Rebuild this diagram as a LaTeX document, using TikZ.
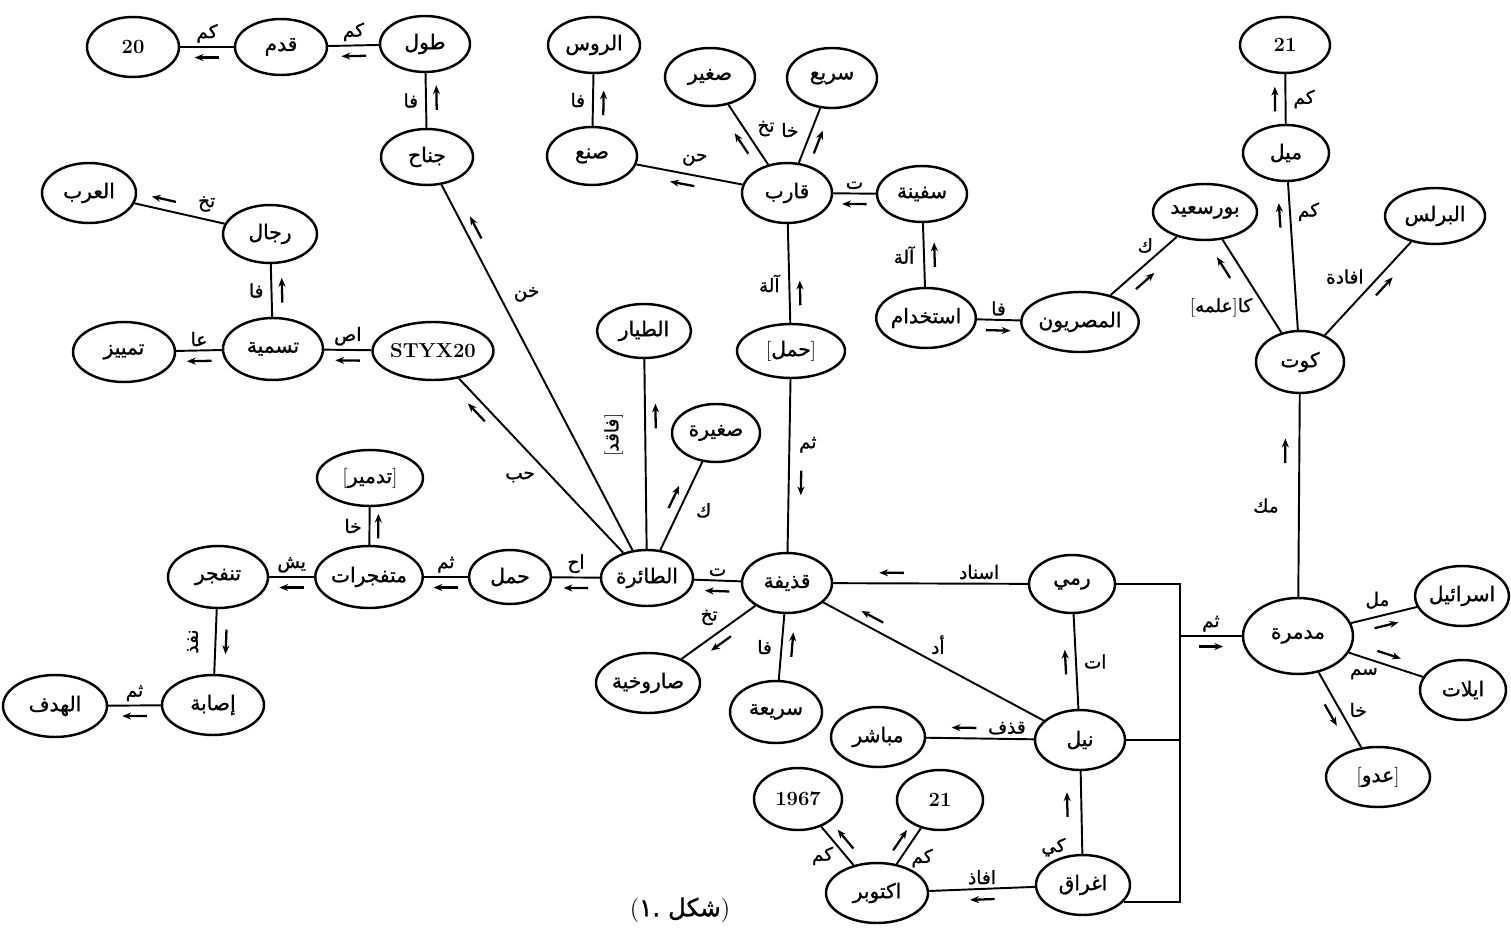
\documentclass[tikz,border=0pt]{standalone}
\usepackage{fontspec}
\newfontfamily\arabicfont[Script=Arabic,FakeBold=1.2]{DejaVu Sans}
\TeXXeTstate=1
\usetikzlibrary{shapes.geometric,decorations.markings,arrows.meta}
\newcommand{\art}[1]{{\arabicfont\beginR #1\endR}}
\tikzset{
  nd/.style={ellipse, draw, line width=1.4pt, inner sep=0pt, font=\fontsize{11.5}{13}\selectfont},
  sz/.style 2 args={minimum width={#1*0.02cm}, minimum height={#2*0.02cm}},
  ed/.style={line width=1.1pt},
  lb/.style={font=\fontsize{10.5}{12}\selectfont, inner sep=1pt},
  mkline/.style={line width=1.3pt, -{Stealth[length=5pt,width=4pt]}},
  mk/.style n args={3}{postaction={decorate, decoration={markings,
      mark=at position #1 with {\draw[mkline] ({-7pt*#3},#2) -- ({7pt*#3},#2);}}}},
}
\begin{document}
\begin{tikzpicture}[x=0.02cm, y=-0.02cm]
\fill[white] (0,0) rectangle (1511,929);
\useasboundingbox (0,0) rectangle (1511,929);

% nodes
\node[nd,sz={92}{60}] (n20) at (133,47) {\bfseries 20};
\node[nd,sz={92}{56}] (qadam) at (281,47) {\art{قدم}};
\node[nd,sz={90}{56}] (tul) at (425,44) {\art{طول}};
\node[nd,sz={92}{56}] (jah) at (427,157) {\art{جناح}};
\node[nd,sz={94}{60}] (arab) at (89,193) {\art{العرب}};
\node[nd,sz={94}{58}] (rijal) at (270,234) {\art{رجال}};
\node[nd,sz={102}{60}] (tamyiz) at (124,352) {\art{تمييز}};
\node[nd,sz={100}{62}] (tasmia) at (273,349) {\art{تسمية}};
\node[nd,sz={100}{58}] (styx) at (433,351) {\bfseries STYX20};
\node[nd,sz={106}{56}] (tadmir) at (370,478) {[\art{تدمير}]};
\node[nd,sz={102}{62}] (mutaf) at (369,577) {\art{متفجرات}};
\node[nd,sz={100}{62}] (tanfajir) at (218,577) {\art{تنفجر}};
\node[nd,sz={102}{60}] (isaba) at (213,705) {\art{إصابة}};
\node[nd,sz={104}{62}] (hadaf) at (55,706) {\art{الهدف}};
\node[nd,sz={82}{54}] (haml) at (510,577) {\art{حمل}};
\node[nd,sz={92}{56}] (taira) at (647,578) {\art{الطائرة}};
\node[nd,sz={94}{54}] (tayyar) at (644,331) {\art{الطيار}};
\node[nd,sz={88}{58}] (saghira) at (716,433) {\art{صغيرة}};
\node[nd,sz={90}{60}] (qadhifa) at (787,583) {\art{قذيفة}};
\node[nd,sz={108}{54}] (hamlb) at (791,351) {[\art{حمل}]};
\node[nd,sz={104}{60}] (sarukh) at (648,683) {\art{صاروخية}};
\node[nd,sz={92}{62}] (sariaa) at (776,712) {\art{سريعة}};
\node[nd,sz={92}{56}] (rus) at (594,45) {\art{الروس}};
\node[nd,sz={90}{58}] (sun) at (592,156) {\art{صنع}};
\node[nd,sz={90}{58}] (saghir) at (710,77) {\art{صغير}};
\node[nd,sz={90}{60}] (sari) at (832,78) {\art{سريع}};
\node[nd,sz={90}{60}] (qarib) at (787,193) {\art{قارب}};
\node[nd,sz={90}{56}] (safina) at (922,194) {\art{سفينة}};
\node[nd,sz={98}{60}] (istikhdam) at (926,318) {\art{استخدام}};
\node[nd,sz={104}{60}] (misriyun) at (1080,322) {\art{المصريون}};
\node[nd,sz={104}{56}] (portsaid) at (1205,212) {\art{بورسعيد}};
\node[nd,sz={90}{56}] (ntop) at (1285,45) {\bfseries 21};
\node[nd,sz={86}{56}] (mil) at (1286,153) {\art{ميل}};
\node[nd,sz={100}{56}] (burullus) at (1435,216) {\art{البرلس}};
\node[nd,sz={88}{62}] (kut) at (1300,362) {\art{كوت}};
\node[nd,sz={86}{58}] (rami) at (1072,584) {\art{رمي}};
\node[nd,sz={110}{76}] (mudammira) at (1298,636) {\art{مدمرة}};
\node[nd,sz={88}{60}] (israil) at (1462,596) {\art{اسرائيل}};
\node[nd,sz={86}{60}] (eilat) at (1463,690) {\art{ايلات}};
\node[nd,sz={104}{60}] (aduw) at (1378,777) {[\art{عدو}]};
\node[nd,sz={90}{60}] (nil) at (1080,740) {\art{نيل}};
\node[nd,sz={94}{60}] (ighraq) at (1083,885) {\art{اغراق}};
\node[nd,sz={94}{60}] (mubashir) at (878,737) {\art{مباشر}};
\node[nd,sz={102}{60}] (uktubar) at (877,893) {\art{اكتوبر}};
\node[nd,sz={88}{62}] (n1967) at (798,799) {\bfseries 1967};
\node[nd,sz={86}{60}] (nb21) at (940,800) {\bfseries 21};

% edges, top left
\draw[ed, mk={0.5}{6pt}{1}] (tul) -- node[lb,above=1pt]{\art{كم}} (qadam);
\draw[ed, mk={0.5}{6pt}{1}] (qadam) -- node[lb,above=1pt]{\art{كم}} (n20);
\draw[ed, mk={0.55}{-6pt}{1}] (jah) -- node[lb,left=3pt]{\art{فا}} (tul);
\draw[ed, mk={0.87}{-6pt}{1}] (taira) -- node[lb,pos=0.7,right=7pt]{\art{خن}} (jah);
\draw[ed, mk={0.85}{6pt}{1}] (taira) -- node[lb,pos=0.5,below left=2pt]{\art{حب}} (styx);
\draw[ed, mk={0.7}{-6pt}{1}] (rijal) -- node[lb,pos=0.2,above=3pt]{\art{تخ}} (arab);
\draw[ed, mk={0.5}{-6pt}{1}] (tasmia) -- node[lb,left=3pt]{\art{فا}} (rijal);
\draw[ed, mk={0.5}{6pt}{1}] (styx) -- node[lb,above=1pt]{\art{اص}} (tasmia);
\draw[ed, mk={0.5}{6pt}{1}] (tasmia) -- node[lb,above=1pt]{\art{عا}} (tamyiz);
\draw[ed, mk={0.5}{6pt}{1}] (taira) -- node[lb,above=1pt]{\art{اح}} (haml);
\draw[ed, mk={0.5}{6pt}{1}] (haml) -- node[lb,above=1pt]{\art{ثم}} (mutaf);
\draw[ed, mk={0.5}{6pt}{1}] (mutaf) -- node[lb,above=1pt]{\art{يش}} (tanfajir);
\draw[ed, mk={0.5}{-5pt}{1}] (mutaf) -- node[lb,left=3pt]{\art{خا}} (tadmir);
\draw[ed, mk={0.5}{6pt}{1}] (tanfajir) -- node[lb,pos=0.5,xshift=-13pt,rotate=90]{\art{نفذ}} (isaba);
\draw[ed, mk={0.5}{6pt}{1}] (isaba) -- node[lb,above=1pt]{\art{ثم}} (hadaf);

% centre
\draw[ed, mk={0.7}{-6pt}{1}] (taira) -- node[lb,pos=0.6,xshift=-18pt,rotate=90]{[\art{فاقد}]} (tayyar);
\draw[ed, mk={0.55}{6pt}{1}] (taira) -- node[lb,pos=0.45,right=8pt]{\art{ك}} (saghira);
\draw[ed, mk={0.5}{6pt}{1}] (qadhifa) -- node[lb,above=1pt]{\art{ت}} (taira);
\draw[ed, mk={0.4}{-7pt}{-1}] (qadhifa) -- node[lb,pos=0.62,right=4pt]{\art{ثم}} (hamlb);
\draw[ed, mk={0.3}{-6pt}{1}] (hamlb) -- node[lb,pos=0.4,left=4pt]{\art{آلة}} (qarib);
\draw[ed, mk={0.55}{6pt}{1}] (qarib) -- node[lb,pos=0.45,above=4pt]{\art{حن}} (sun);
\draw[ed, mk={0.45}{-6pt}{1}] (sun) -- node[lb,left=3pt]{\art{فا}} (rus);
\draw[ed, mk={0.45}{6pt}{1}] (qarib) -- node[lb,pos=0.6,right=6pt]{\art{تخ}} (saghir);
\draw[ed, mk={0.45}{-6pt}{1}] (qarib) -- node[lb,pos=0.6,left=6pt]{\art{خا}} (sari);
\draw[ed, mk={0.5}{6pt}{1}] (safina) -- node[lb,above=1pt]{\art{ت}} (qarib);
\draw[ed, mk={0.5}{-6pt}{1}] (istikhdam) -- node[lb,left=4pt]{\art{آلة}} (safina);
\draw[ed, mk={0.5}{-6pt}{1}] (istikhdam) -- node[lb,above=1pt]{\art{فا}} (misriyun);
\draw[ed, mk={0.4}{-7pt}{1}] (misriyun) -- node[lb,pos=0.68,above left=0pt]{\art{ك}} (portsaid);
\draw[ed, mk={0.22}{-8pt}{-1}] (portsaid) -- node[lb,pos=0.58,below left=1pt]{[\art{علمه}]\art{كا}} (kut);
\draw[ed, mk={0.5}{6pt}{1}] (mil) -- node[lb,right=3pt]{\art{كم}} (ntop);
\draw[ed, mk={0.78}{6pt}{1}] (kut) -- node[lb,pos=0.8,right=3pt]{\art{كم}} (mil);
\draw[ed, mk={0.6}{-6pt}{1}] (kut) -- node[lb,pos=0.5,above left=1pt]{\art{افادة}} (burullus);
\draw[ed, mk={0.72}{8pt}{1}] (mudammira) -- node[lb,pos=0.45,left=10pt]{\art{مك}} (kut);
\draw[ed, mk={0.5}{-6pt}{1}] (mudammira) -- node[lb,pos=0.4,above=3pt]{\art{مل}} (israil);
\draw[ed, mk={0.5}{6pt}{1}] (mudammira) -- node[lb,pos=0.45,below left=1pt]{\art{سم}} (eilat);
\draw[ed, mk={0.5}{-6pt}{1}] (mudammira) -- node[lb,pos=0.5,right=4pt]{\art{خا}} (aduw);

% lower centre
\draw[ed, mk={0.7}{-6pt}{1}] (rami) -- node[lb,pos=0.25,above=1pt]{\art{اسناد}} (qadhifa);
\draw[ed, mk={0.8}{-6pt}{1}] (nil) -- node[lb,pos=0.48,above=4pt]{\art{أد}} (qadhifa);
\draw[ed, mk={0.5}{6pt}{1}] (nil) -- node[lb,right=3pt]{\art{ات}} (rami);
\draw[ed, mk={0.65}{-6pt}{1}] (nil) -- node[lb,pos=0.25,above=1pt]{\art{قذف}} (mubashir);
\draw[ed, mk={0.6}{8pt}{1}] (ighraq) -- node[lb,pos=0.08,left=8pt]{\art{كي}} (nil);
\draw[ed, mk={0.5}{6pt}{1}] (ighraq) -- node[lb,above=1pt]{\art{افاذ}} (uktubar);
\draw[ed, mk={0.5}{-6pt}{1}] (uktubar) -- node[lb,pos=0.55,below left=0pt]{\art{كم}} (n1967);
\draw[ed, mk={0.5}{6pt}{1}] (uktubar) -- node[lb,pos=0.5,below right=0pt]{\art{كم}} (nb21);
\draw[ed, mk={0.55}{6pt}{1}] (qadhifa) -- node[lb,pos=0.45,above left=1pt]{\art{تخ}} (sarukh);
\draw[ed, mk={0.45}{6pt}{-1}] (qadhifa) -- node[lb,pos=0.5,left=4pt]{\art{فا}} (sariaa);

% bracket
\coordinate (bx) at (1180,0);
\draw[ed] (rami.east) -- (rami.east -| bx) -- (ighraq.-22 -| bx) -- (ighraq.-22);
\draw[ed] (nil.east) -- (nil.east -| bx);
\draw[ed, mk={0.5}{-6pt}{1}] (mudammira.west -| bx) -- node[lb,above=1pt]{\art{ثم}} (mudammira.west);

% caption
\node[font=\fontsize{14}{16}\selectfont] (cap) at (680,910) {(\art{شكل .١})};
\end{tikzpicture}
\end{document}
